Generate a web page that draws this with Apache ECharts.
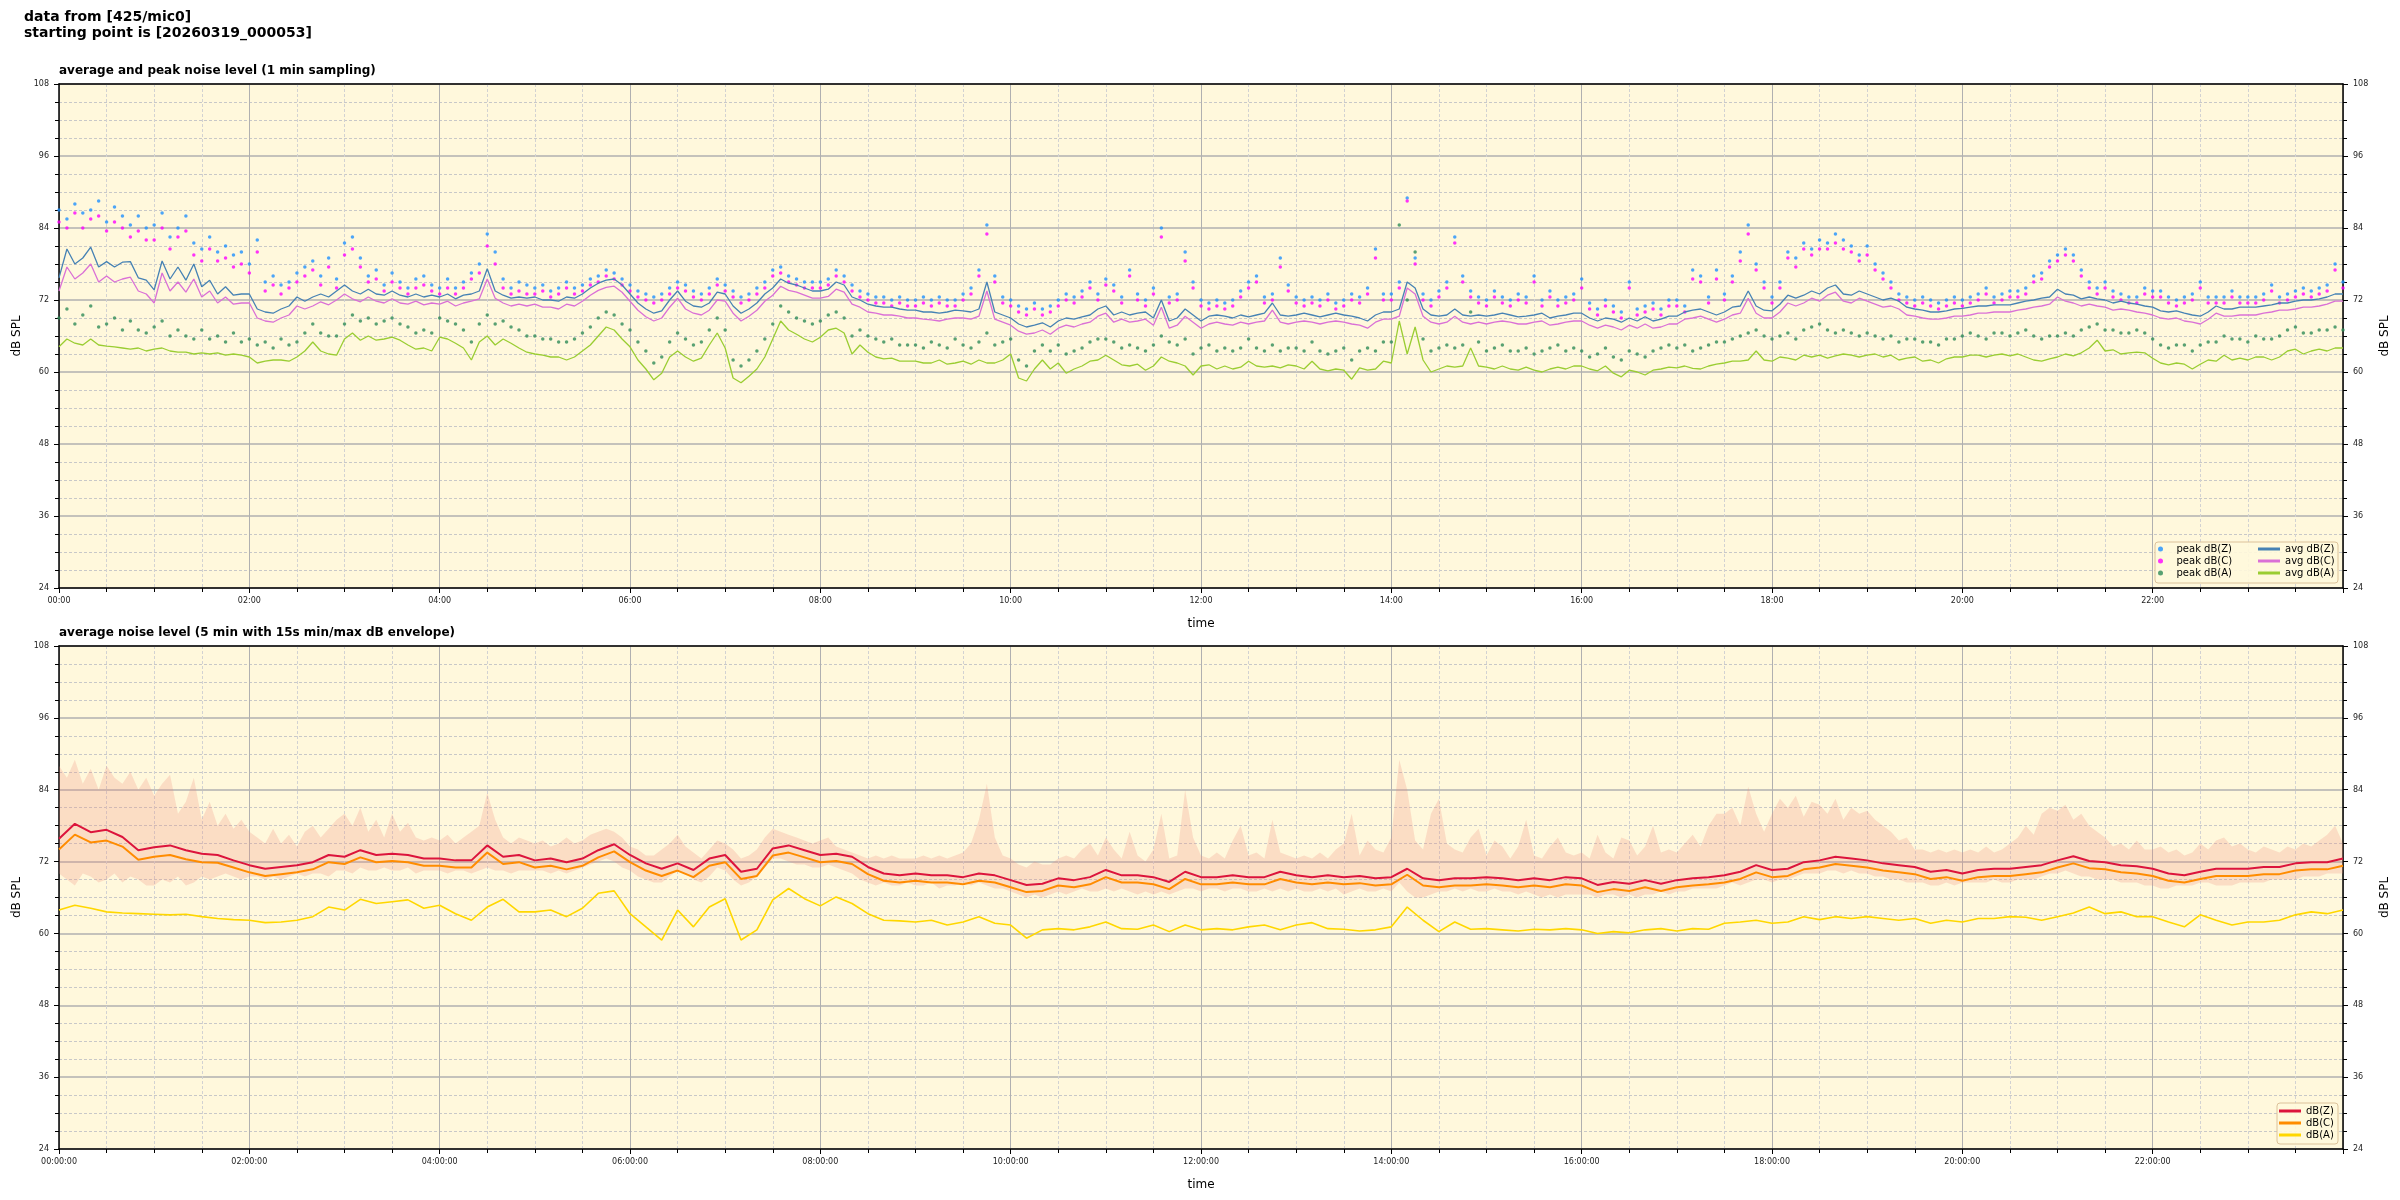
<!DOCTYPE html>
<html><head><meta charset="utf-8">
<script src="https://cdn.jsdelivr.net/npm/echarts@6/dist/echarts.min.js"></script>
<style>html,body{margin:0;padding:0;background:#fff}#c{width:2400px;height:1200px}</style>
</head><body><div id="c"></div>
<script>
// ---------- texts ----------
const supTitle = 'data from [425/mic0]\nstarting point is [20260319_000053]';
const title1 = 'average and peak noise level (1 min sampling)';
const title2 = 'average noise level (5 min with 15s min/max dB envelope)';
const legendTop1 = ['peak dB(Z)', 'peak dB(C)', 'peak dB(A)'];
const legendTop2 = ['avg dB(Z)', 'avg dB(C)', 'avg dB(A)'];
const legendBottom = ['dB(Z)', 'dB(C)', 'dB(A)'];
const yMin = 24, yMax = 108, yStep = 12;
const xMinMin = 0, xMaxMin = 1440, xStepMin = 120;

// ---------- top chart: 5-min readings (one row per hour) ----------
const avgZ = [
75.7,80.5,78,79,80.8,77.5,78.4,77.5,78.3,78.4,75.7,75.3,
73.7,78.5,75.5,77.5,75.3,78,74.2,75.3,73,74.2,72.8,73,
73,70.5,70,69.8,70.5,71,72.5,71.8,72.5,73,72.5,73.5,
74.5,73.5,73,73.8,73,72.8,73.5,72.8,72.5,73,72.5,72.8,
72.5,73,72.2,72.8,73,73.5,77.2,73.5,72.8,72.3,72.5,72.3,
72.5,72,72,71.8,72.5,72.3,73,74,74.8,75.3,75.5,74.5,
73,71.5,70.5,69.8,70.2,72,73.5,71.8,71,70.8,71.5,73.3,
73,71,69.8,70.5,71.5,73,74,75.5,74.8,74.5,74,73.5,
73.5,73.8,75,74.5,72.5,72,71.3,71,70.8,70.8,70.5,70.3,
70.3,70,70,69.8,70,70.3,70.2,70,70.5,75,70,69.5,
69,68,67.5,67.8,68.2,67.5,68.5,69,68.8,69.2,69.5,70.5,
71,69.5,70,69.5,69.8,70,69,72,68.5,69,70.5,69.5,
68.5,69.3,69.5,69.3,69,69.5,69.2,69.5,69.8,71.5,69.5,69.3,
69.5,69.8,69.5,69.2,69.5,69.8,69.5,69.3,69,68.5,69.5,70,
70,70.5,75,74,70.5,69.5,69.3,69.5,70.5,69.5,69.3,69.5,
69.3,69.5,69.8,69.5,69.2,69.3,69.5,69.8,69,69.3,69.5,69.8,
69.8,69,68.5,69,68.8,68.3,69,68.5,69.2,68.5,68.8,69.3,
69.3,70,70.3,70.5,70,69.5,70,70.8,71,73.5,71,70.3,
70.2,71.3,72.8,72.3,72.8,73.5,73,74,74.5,73,72.8,73.5,
73,72.5,72,72.3,71.8,70.8,70.5,70.3,70,70,70.2,70.5,
70.6,70.8,71,71,71.2,71.2,71.2,71.5,71.8,72,72.3,72.5,
73.8,73,72.8,72.2,72.5,72.2,72,71.5,71.8,71.5,71.3,71,
70.8,70.2,70,70.2,69.8,69.5,69.3,70,71,70.5,70.5,70.8,
70.8,70.8,71,71.2,71.5,71.5,71.8,72,72,72.2,72.5,73,
73];
const avgC = [
73.5,77.5,75.5,76.5,78,75,76,75,75.5,75.8,73.5,73,
71.5,76.5,73.5,75,73.3,75.5,72.5,73.5,71.5,72.5,71.3,71.5,
71.5,69,68.5,68.3,69,69.5,71,70.5,71,71.7,71.2,72,
73,72.2,71.7,72.5,71.8,71.5,72.2,71.5,71.3,71.8,71.2,71.5,
71.3,71.8,71,71.5,71.8,72.2,75.5,72.3,71.5,71,71.3,71,
71.3,70.8,70.8,70.5,71.3,71,71.8,72.8,73.6,74.1,74.3,73.3,
71.8,70.3,69.2,68.5,69,70.8,72.3,70.5,69.8,69.5,70.3,72,
71.8,69.8,68.5,69.3,70.3,71.8,72.8,74.3,73.6,73.3,72.8,72.3,
72.3,72.6,73.8,73.3,71.3,70.8,70,69.8,69.5,69.5,69.3,69,
69,68.8,68.7,68.5,68.8,69,69,68.8,69.3,73.5,68.8,68.3,
67.8,66.8,66.3,66.5,67,66.3,67.3,67.8,67.5,68,68.3,69.3,
69.8,68.3,68.8,68.3,68.5,68.8,67.8,70.8,67.3,67.8,69.3,68.3,
67.3,68,68.3,68,67.8,68.3,68,68.3,68.5,70.3,68.3,68,
68.3,68.5,68.3,68,68.3,68.5,68.3,68,67.8,67.3,68.3,68.8,
68.8,69.3,74,73,69.3,68.3,68,68.3,69.3,68.3,68,68.3,
68,68.3,68.5,68.3,68,68,68.3,68.5,67.8,68,68.3,68.5,
68.5,67.8,67.3,67.8,67.5,67,67.8,67.3,68,67.3,67.5,68,
68,68.8,69,69.3,68.8,68.3,68.8,69.5,69.8,72.3,69.8,69,
69,70,71.5,71,71.5,72.3,71.8,72.8,73.3,71.8,71.5,72.3,
71.8,71.3,70.8,71,70.5,69.5,69.3,69,68.8,68.8,69,69.3,
69.3,69.5,69.8,69.8,70,70,70,70.3,70.5,70.8,71,71.3,
72.5,71.8,71.5,71,71.3,71,70.8,70.3,70.5,70.3,70,69.8,
69.5,69,68.8,69,68.5,68.3,68,68.8,69.8,69.3,69.3,69.5,
69.5,69.5,69.8,70,70.3,70.3,70.5,70.8,70.8,71,71.3,71.8,
71.8];
const avgA = [
64.2,65.5,64.8,64.5,65.5,64.5,64.3,64.2,64,63.8,64,63.5,
63.8,64,63.5,63.3,63.3,63,63.2,63,63.2,62.8,63,62.8,
62.5,61.5,61.8,62,62,61.8,62.5,63.5,65,63.5,63,62.8,
65.5,66.5,65.3,66,65.3,65.5,65.8,65.3,64.5,63.8,64,63.5,
65.8,65.5,64.8,64,62,65,66,64.5,65.5,64.8,64,63.3,
63,62.8,62.5,62.5,62,62.5,63.5,64.5,66,67.5,67,65.5,
64.2,62,60.5,58.7,59.8,62.5,63.5,62.5,61.8,62.3,64.5,66.5,
64,59,58.2,59.3,60.5,62.5,65.5,68.5,67,66.3,65.5,65,
65.8,67,67.3,66.5,63,64.5,63.3,62.5,62.2,62.3,61.8,61.8,
61.8,61.5,61.5,62,61.3,61.5,61.8,61.3,62,61.5,61.5,62,
63,59,58.5,60.5,62,60.5,61.5,59.8,60.5,61,61.8,62,
62.8,62,61.2,61,61.3,60.3,61,62.5,61.8,61.5,61,59.5,
61,61.2,60.5,61,60.5,60.8,61.8,61,60.8,61,60.7,61.2,
61,60.5,61.8,60.5,60.2,60.5,60.3,58.8,60.7,60.3,60.5,61.8,
61.5,68.5,63,67.5,62,60,60.5,61,60.8,61,64,61,
60.8,60.5,61,60.5,60.3,60.8,60.3,60,60.5,60.8,60.5,61,
61,60.5,60.2,61,59.8,59.2,60.3,60,59.5,60.3,60.5,60.8,
60.7,61,60.6,60.5,61,61.3,61.5,61.8,61.8,62,63.5,62,
61.8,62.5,62.3,62,62.8,62.5,62.8,62.3,62.7,63,62.8,62.5,
62.8,63,62.5,62.8,62,62.3,62.5,61.8,62,61.5,62.2,62.5,
62.5,62.8,62.8,62.5,62.8,63,62.7,63,62.5,62,61.8,62.2,
62.5,63,62.7,63.2,64,65.3,63.5,63.7,63,63.2,63.3,63.2,
62.3,61.5,61.2,61.5,61.3,60.5,61.3,62,61.8,62.8,62,62.3,
62,62.5,62.5,62,62.5,63.5,63.8,63,63.5,63.8,63.5,64,
64];
const peakZ = [
87,85.5,88,86.5,87,88.5,85,87.5,86,84.5,86,84,
84.5,86.5,82.5,84,86,81.5,80.5,82.5,80,81,79.5,80,
78,82,75,76,74.5,75,76.5,77.5,78.5,76,79,75.5,
81.5,82.5,79,76,77,74.5,76.5,75,74,75.5,76,74.5,
74,75.5,74,75,76.5,78,83,80,75.5,74,75,74.5,
74,74.5,73.5,74,75,74,74.5,75.5,76,77,76.5,75.5,
74.5,73.5,73,72.5,73,74,75,74.5,73.5,73,74,75.5,
74.5,73.5,72.5,73,74,75,77,77.5,76,75.5,75,75,
75,75.5,77,76,74.5,73.5,73,72.5,72.5,72,72.5,72,
72,72.5,72,72.5,72,72,73,74,77,84.5,76,72.5,
72,71,70.5,71.5,70.5,71,72,73,72.5,73.5,75,73,
75.5,74.5,72.5,77,73,72,74,84,72.5,73,80,75,
72,71.5,72,71.5,72,73.5,75,76,72.5,73,79,74.5,
72.5,72,72.5,72,73,71.5,72,73,72.5,74,80.5,73,
73,75,89,79,73,72,73.5,75,82.5,76,73.5,72.5,
72,73.5,72.5,72,73,72.5,76,72,73.5,72,72.5,73,
75.5,71.5,70.5,72,71,70,75,70.5,71,71.5,70.5,72,
72,71,77,76,72.5,77,73,76,80,84.5,78,75,
72.5,75,80,79,81.5,80.5,82,81.5,83,82,81,79.5,
81,78,76.5,75,73,72.5,72,72.5,72,71.5,72,72.5,
72,72.5,73,74,72.5,73,73.5,73.5,74,76,76.5,78.5,
79.5,80.5,79.5,77,75,74,75,73.5,73,72.5,72.5,74,
73.5,73.5,72.5,72,72.5,73,75,72.5,72.5,72.5,73.5,72.5,
72.5,72.5,73,74.5,72.5,73,73.5,74,73.5,74,74.5,78,
75];
const peakC = [
85,84,86.5,84,85.5,86,83.5,85,84,82.5,83.5,82,
82,84,80.5,82.5,83.5,79.5,78.5,80.5,78.5,79,77.5,78,
76.5,80,73.5,74.5,73,74,75,76,77,74.5,77.5,74,
79.5,80.5,77.5,75,75.5,73.5,75,74,73,74,74.5,73.5,
73,74,73,74,75.5,76.5,81,78,74,73,73.5,73,
73,73.5,72.5,73,74,73,73.5,74.5,75,76,75.5,74.5,
73.5,72.5,72,71.5,72,73,74,73.5,72.5,72,73,74.5,
73.5,72.5,71.5,72,73,74,76,76.5,75,74.5,74,74,
74,74.5,76,75,73.5,72.5,72,71.5,71.5,71,71.5,71,
71,71.5,71,71.5,71,71,72,73,76,83,75,71.5,
71,70,69.5,70.5,69.5,70,71,72,71.5,72.5,74,72,
74.5,73.5,71.5,76,72,71,73,82.5,71.5,72,78.5,74,
71,70.5,71,70.5,71,72.5,74,75,71.5,72,77.5,73.5,
71.5,71,71.5,71,72,70.5,71,72,71.5,73,79,72,
72,74,88.5,78,72,71,72.5,74,81.5,75,72.5,71.5,
71,72.5,71.5,71,72,71.5,75,71,72.5,71,71.5,72,
74,70.5,69.5,71,70,69,74,69.5,70,70.5,69.5,71,
71,70,75.5,75,71.5,75.5,72,75,78.5,83,77,74,
71.5,74,79,77.5,80.5,79.5,80.5,80.5,81.5,80.5,80,78.5,
79.5,77,75.5,74,72,71.5,71,71.5,71,70.5,71,71.5,
71,71.5,72,73,71.5,72,72.5,72.5,73,75,75.5,77.5,
78.5,79.5,78.5,76,74,73,74,72.5,72,71.5,71.5,73,
72.5,72.5,71.5,71,71.5,72,74,71.5,71.5,71.5,72.5,71.5,
71.5,71.5,72,73.5,71.5,72,72.5,73,72.5,73,73.5,77,
74];
const peakA = [
69,70.5,68,69.5,71,67.5,68,69,67,68.5,67,66.5,
67.5,68.5,66,67,66,65.5,67,65.5,66,65,66.5,65,
65.5,64.5,65,64,65.5,64.5,65,66.5,68,66.5,66,66,
68,69.5,68.5,69,68,68.5,69,68,67.5,66.5,67,66.5,
69,68.5,68,67,65,68,69.5,68,68.5,67.5,67,66,
66,65.5,65.5,65,65,65.5,66.5,67.5,69,70,69.5,68,
67,65,63.5,61.5,62.5,65,66.5,65.5,64.5,65,67,69,
67,62,61,62,63.5,65.5,68,71,70,69,68.5,68,
68.5,69.5,70,69,66,67,66,65.5,65,65.5,64.5,64.5,
64.5,64,65,64.5,64,65.5,64.5,64,65,66.5,64.5,65,
65.5,62,61,63.5,64.5,63.5,64.5,63,63.5,64,65,65.5,
65.5,65,64,64.5,64,63.5,64.5,66,65,64.5,65.5,63,
64,64.5,63.5,64,63.5,64,65.5,64,63.5,64.5,63.5,64,
64,63.5,65,63.5,63,63.5,64,62,63.5,64,63.5,65,
65,84.5,72,80,65.5,63.5,64,64.5,64,64.5,70,65,
63.5,64,64.5,63.5,63.5,64,63,63.5,64,64.5,63.5,64,
63.5,62.5,63,64,62.5,62,63.5,63,62.5,63.5,64,64.5,
64,64.5,63.5,64,64.5,65,65,65.5,66,66.5,67,66,
65.5,66,66.5,65.5,67,67.5,68,67,66.5,67,66.5,66,
66.5,66,65.5,66,65,65.5,65.5,65,65,64.5,65.5,65.5,
66,66.5,66,65.5,66.5,66.5,66,66.5,67,66,65.5,66,
66,66.5,66,67,67.5,68,67,67,66.5,66.5,67,66.5,
65.5,64.5,64,64.5,64.5,63.5,64.5,65,65,66,65.5,65.5,
65,66,65.5,65.5,66,67,67.5,66.5,66.5,67,67,67.5,
67];

// ---------- bottom chart: 10-min readings (one row per 2 hours) ----------
const lineZ = [
75.8,78.3,76.9,77.3,76.1,73.9,74.4,74.7,73.9,73.3,73.1,72.2,
71.4,70.8,71.1,71.4,71.9,73.1,72.8,73.9,73.1,73.3,73.1,72.5,
72.5,72.2,72.2,74.7,72.8,73.1,72.2,72.5,71.9,72.5,73.9,74.9,
73.1,71.7,70.8,71.7,70.6,72.5,73.1,70.3,70.8,74.2,74.7,73.9,
73.1,73.3,72.8,71.1,70,69.7,70,69.7,69.7,69.4,70,69.7,
68.9,68.1,68.3,69.2,68.9,69.4,70.6,69.7,69.7,69.4,68.6,70.3,
69.4,69.4,69.7,69.4,69.4,70.3,69.7,69.4,69.7,69.4,69.6,69.2,
69.4,70.8,69.2,68.9,69.2,69.2,69.4,69.2,68.9,69.2,68.9,69.4,
69.2,68.1,68.6,68.3,68.9,68.3,68.9,69.2,69.4,69.7,70.3,71.4,
70.6,70.8,71.9,72.2,72.8,72.5,72.2,71.7,71.4,71.1,70.3,70.6,
70,70.6,70.8,70.8,71.1,71.4,72.2,72.9,72.1,71.9,71.4,71.2,
70.8,70,69.7,70.3,70.8,70.8,70.8,71.1,71.1,71.7,71.9,71.9,
72.5];
const lineC = [
74,76.5,75.2,75.5,74.5,72.3,72.8,73.1,72.4,71.9,71.8,71,
70.2,69.6,69.9,70.2,70.7,71.9,71.6,72.7,71.9,72.1,71.9,71.3,
71.3,71,71,73.5,71.6,71.9,71,71.3,70.7,71.3,72.7,73.7,
71.9,70.5,69.6,70.5,69.4,71.3,71.9,69.1,69.6,73,73.5,72.7,
71.9,72.1,71.6,69.9,68.8,68.5,68.8,68.5,68.5,68.2,68.8,68.5,
67.7,66.9,67.1,68,67.7,68.2,69.4,68.5,68.5,68.2,67.4,69.1,
68.2,68.2,68.5,68.2,68.2,69.1,68.5,68.2,68.5,68.2,68.4,68,
68.2,69.8,68,67.7,68,68,68.2,68,67.7,68,67.7,68.2,
68,66.9,67.4,67.1,67.7,67.1,67.7,68,68.2,68.5,69.1,70.2,
69.4,69.6,70.7,71,71.6,71.3,71,70.5,70.2,69.9,69.1,69.4,
68.8,69.4,69.6,69.6,69.9,70.2,71,71.7,70.9,70.7,70.2,70,
69.6,68.8,68.5,69.1,69.6,69.6,69.6,69.9,69.9,70.5,70.7,70.7,
71.3];
const lineA = [
63.9,64.7,64.2,63.6,63.4,63.3,63.2,63.1,63.2,62.8,62.5,62.3,
62.2,61.8,61.9,62.2,62.8,64.4,63.9,65.7,65,65.3,65.6,64.2,
64.7,63.3,62.2,64.4,65.7,63.6,63.6,63.9,62.8,64.2,66.7,67.1,
63.3,61.1,58.9,63.9,61.1,64.4,65.8,58.9,60.6,65.6,67.5,65.8,
64.6,66.1,65,63.3,62.2,62.1,61.9,62.2,61.4,61.9,62.8,61.7,
61.4,59.2,60.6,60.8,60.6,61.1,61.9,60.8,60.7,61.4,60.3,61.4,
60.6,60.8,60.6,61.1,61.4,60.6,61.4,61.8,60.8,60.7,60.4,60.6,
61.1,64.4,62.2,60.3,61.9,60.7,60.8,60.6,60.4,60.7,60.6,60.8,
60.6,60,60.3,60.1,60.6,60.8,60.4,60.8,60.7,61.7,61.9,62.2,
61.7,61.9,62.8,62.3,62.8,62.5,62.8,62.5,62.2,62.5,61.7,62.2,
61.9,62.5,62.5,62.8,62.7,62.2,62.8,63.4,64.4,63.3,63.6,62.8,
62.8,61.9,61.1,63.1,62.2,61.4,61.9,61.9,62.2,63.1,63.6,63.3,
63.9];
// 15 s min/max envelope, read every 5 min (one row per hour)
const envMax = [
88,86,89,85,87.5,84,88,86,85,87,84,86,
83,85,86.5,80,82,86,79,82,78,80,77.5,79,
77,76,75,77.5,75,76.5,74.5,77,78,76,77.5,79,
80,78,81,77,79,76,80,77,78.5,76,75.5,76,
75.5,76.5,75,76,77,78,83.5,79,76,75,76,75.5,
75,75.5,74.5,75,76,75,75.5,76.5,77,77.5,77,76,
74.5,74,73,73,74,75,76.5,74.5,73.5,72.5,74,75.5,
75,74,72.5,73,74,76,77.5,77,76.5,76,75.5,75,
75.5,76,74.5,74,73.5,73,72.5,73,72.5,73,72.5,72.5,
72.5,73,72.5,73,72.5,73,73.5,75,79,85,76,73,
72.5,71.5,71,72,71.5,71.5,72.5,73,72.5,74,75,73,
76,74,72.5,77,73,72,74,80,72.5,73,84,76,
73,72.5,73.5,72.5,75.5,78,73,73.5,72.5,79,73.5,73,
72.5,73,72.5,73.5,72.5,74,75,80,73,75.5,74,73.5,
76,89,84,75.5,74,80,82.5,75,74,73.5,76,77.5,
73,75.5,74.5,72.5,74.5,79,73,72.5,74.5,76,73.5,73,
73.5,72.5,76.5,73.5,72.5,76,75.5,73,74.5,78,73.5,74,
73.5,75,76.5,74.5,78,80,80,81,78,84.5,80,77,
80,82.5,81,83,79.5,82,81.5,80,82.5,79,81,80,
80.5,79,78,77,75.5,76,74,74,73.5,74,73.5,74,
73.5,74,73.5,74.5,73.5,74,75,76,78,76.5,80,81,
80.5,81.5,79,80,78,77,76,74.5,75,74,75.5,74,
74,74.5,73.5,74,73,73.5,75,74,75.5,76,74.5,75,
74,73.5,74.5,74,73.5,74.5,74,75,74.5,75.5,76.5,78,
75];
const envMin = [
70,69,68,70,69.5,68.5,69,70,68.5,69.5,69,68,
68,69,68.5,69.5,68,68.5,69.5,69,69.5,70,69.5,69,
69.5,69.5,69,69.5,69,69.5,70,69.5,70,70,69.5,70.5,
70.5,70,71,70.5,70.5,71,70.5,70.5,71,70,70.5,70.5,
70.5,70,70.5,70.5,70,70.5,71,70.5,70.5,70,70.5,70.5,
70.5,70.5,70,70.5,70,70.5,71,71.5,72,72.5,72,71,
70.5,69.5,69,68.5,68.5,69.5,70.5,70,69,68.5,69.5,71,
70.5,69,68,68.5,69.5,71,72.5,72.5,72,71.5,71.5,71,
71,71.5,71,70.5,70,69,68.5,68,68.5,68,68,68.5,
68,68,68.5,67.5,68,68,68.5,68,68.5,68,67.5,67.5,
67,66.5,66,66.5,66,66.5,67,66.5,67,67.5,67,67,
67.5,67,67.5,67,66.5,67,66.5,67,66.5,67,67.5,67.5,
67,67.5,67.5,67,67.5,67.5,67,67,67.5,67,67.5,67,
67.5,67,67,67.5,67,67.5,66.5,67,67.5,67,67,67.5,
67,68.5,67,66,66,66.5,67,67,67.5,67,67.5,67,
67,67.5,67,67,66.5,67,66.5,66,66.5,66,66.5,66.5,
66.5,66.5,66,66.5,66.5,66,66.5,66,66.5,66.5,67,66.5,
67,67,67.5,67.5,67.5,67.5,68,68.5,68,68.5,69,69,
68.5,69,69,69.5,70,70,70,70.5,70.5,70,70.5,70,
70,69.5,69.5,69,69,68.5,68.5,68.5,68,68,68.5,68,
68.5,68.5,68.5,68.5,69,68.5,68.5,69,69,69,69.5,70,
70,70.5,70,69.5,69.5,69,69,69,68.5,68.5,68.5,68,
68,67.5,67.5,68,68,68,68.5,68.5,68,68,68,68.5,
68.5,68.5,68.5,69,69,69,69,69.5,69.5,69.5,70,70,
70];

// ---------- build ----------
const FONT = 'DejaVu Sans';
const pts = (arr, step) => arr.map((v, i) => [i * step, v]);
const pad2 = n => (n < 10 ? '0' : '') + n;
const fmtTop = v => v >= xMaxMin ? '' : pad2(Math.round(v / 60)) + ':00';
const fmtBot = v => v >= xMaxMin ? '' : pad2(Math.round(v / 60)) + ':00:00';

function xBottom(gi, fmt) {
  return {
    type: 'value', gridIndex: gi, position: 'bottom', min: xMinMin, max: xMaxMin, interval: xStepMin,
    axisLine: { show: true, onZero: false, lineStyle: { color: '#000', width: 1.5 } },
    axisTick: { show: true, length: 5, lineStyle: { color: '#000', width: 1 } },
    minorTick: { show: true, splitNumber: 4, length: 4, lineStyle: { color: '#000', width: 1 } },
    axisLabel: { fontFamily: FONT, fontSize: 8, color: '#222', margin: 9, formatter: fmt, showMaxLabel: false },
    splitLine: { show: true, lineStyle: { color: '#b0b0b0', width: 1 } },
    minorSplitLine: { show: true, lineStyle: { color: '#d2d2d2', width: 1, type: [3, 2] } },
    name: 'time', nameLocation: 'middle', nameGap: 30,
    nameTextStyle: { fontFamily: FONT, fontSize: 12, color: '#000' }
  };
}
function xTop(gi) {
  return {
    type: 'value', gridIndex: gi, position: 'top', min: xMinMin, max: xMaxMin,
    axisLine: { show: true, onZero: false, lineStyle: { color: '#000', width: 1.5 } },
    axisTick: { show: false }, axisLabel: { show: false }, splitLine: { show: false }
  };
}
function yAx(gi, side) {
  const left = side === 'left';
  return {
    type: 'value', gridIndex: gi, position: side, min: yMin, max: yMax, interval: yStep,
    axisLine: { show: true, onZero: false, lineStyle: { color: '#000', width: 1.5 } },
    axisTick: { show: true, length: 5, lineStyle: { color: '#000', width: 1 } },
    minorTick: { show: true, splitNumber: 4, length: 4, lineStyle: { color: '#000', width: 1 } },
    axisLabel: { fontFamily: FONT, fontSize: 8, color: '#222', margin: 10 },
    splitLine: { show: left, lineStyle: { color: '#b0b0b0', width: 1.5 } },
    minorSplitLine: { show: left, lineStyle: { color: '#c8c8c8', width: 1, type: [3, 2] } },
    name: 'dB SPL', nameLocation: 'middle', nameGap: left ? 33 : 32, nameRotate: 90,
    nameTextStyle: { fontFamily: FONT, fontSize: 12, color: '#000' }
  };
}

const col = {
  pZ: '#1E90FF', pC: '#FF00FF', pA: '#2E8B57',
  aZ: '#4682B4', aC: '#DA70D6', aA: '#9ACD32',
  lZ: '#DC143C', lC: '#FF8C00', lA: '#FFD700',
  env: 'rgba(240,140,120,0.24)'
};
const scatter = (name, data, color) => ({
  name, type: 'scatter', xAxisIndex: 0, yAxisIndex: 0, data: pts(data, 5),
  symbol: 'circle', symbolSize: 3.5, itemStyle: { color }, z: 3
});
const line = (name, data, step, color, w, xi, yi, z) => ({
  name, type: 'line', xAxisIndex: xi, yAxisIndex: yi, data: pts(data, step),
  showSymbol: false, symbol: 'none', lineStyle: { color, width: w }, itemStyle: { color }, z: z
});

// envelope band: polygon through the max readings and back along the min readings
const envelope = {
  name: 'envelope', type: 'custom', xAxisIndex: 2, yAxisIndex: 2, silent: true, z: 2,
  data: pts(envMax, 5), encode: { x: 0, y: 1 },
  renderItem: function (params, api) {
    if (params.dataIndex !== 0) return null;
    const up = envMax.map((v, i) => api.coord([i * 5, v]));
    const lo = envMin.map((v, i) => api.coord([i * 5, v])).reverse();
    return { type: 'polygon', shape: { points: up.concat(lo) }, style: { fill: col.env, stroke: null } };
  }
};

const legendText = { fontFamily: FONT, fontSize: 10, color: '#000', lineHeight: 12 };

const option = {
  animation: false,
  backgroundColor: '#ffffff',
  title: [
    { text: supTitle, left: 24, top: 10, padding: 0,
      textStyle: { fontFamily: FONT, fontSize: 14, fontWeight: 'bold', color: '#000', lineHeight: 15.5 } },
    { text: title1, left: 59, top: 64, padding: 0,
      textStyle: { fontFamily: FONT, fontSize: 12, fontWeight: 'bold', color: '#000', lineHeight: 14 } },
    { text: title2, left: 59, top: 626, padding: 0,
      textStyle: { fontFamily: FONT, fontSize: 12, fontWeight: 'bold', color: '#000', lineHeight: 14 } }
  ],
  grid: [
    { left: 59, top: 84, width: 2284, height: 504, show: true, backgroundColor: '#FFF8DC', borderWidth: 0 },
    { left: 59, top: 646, width: 2284, height: 503, show: true, backgroundColor: '#FFF8DC', borderWidth: 0 }
  ],
  xAxis: [xBottom(0, fmtTop), xTop(0), xBottom(1, fmtBot), xTop(1)],
  yAxis: [yAx(0, 'left'), yAx(0, 'right'), yAx(1, 'left'), yAx(1, 'right')],
  legend: [
    { data: legendTop1, orient: 'vertical', left: 2158, top: 543, padding: 0, itemGap: 0,
      itemWidth: 22, itemHeight: 5, icon: 'circle', textStyle: legendText, z: 20, selectedMode: false },
    { data: legendTop2, orient: 'vertical', left: 2258, top: 543, padding: 0, itemGap: 0,
      itemWidth: 22, itemHeight: 3, icon: 'rect', textStyle: legendText, z: 20, selectedMode: false },
    { data: legendBottom, orient: 'vertical', left: 2279, top: 1105, padding: 0, itemGap: 0,
      itemWidth: 22, itemHeight: 3, icon: 'rect', textStyle: legendText, z: 20, selectedMode: false }
  ],
  graphic: [
    { type: 'rect', shape: { x: 2155, y: 542, width: 183, height: 41, r: 3 },
      style: { fill: 'rgba(255,248,220,0.9)', stroke: '#DCC29A', lineWidth: 1 }, z: 15 },
    { type: 'rect', shape: { x: 2277, y: 1103, width: 61, height: 41, r: 3 },
      style: { fill: 'rgba(255,248,220,0.9)', stroke: '#DCC29A', lineWidth: 1 }, z: 15 }
  ],
  series: [
    scatter('peak dB(Z)', peakZ, col.pZ),
    scatter('peak dB(C)', peakC, col.pC),
    scatter('peak dB(A)', peakA, col.pA),
    line('avg dB(Z)', avgZ, 5, col.aZ, 1.3, 0, 0, 4),
    line('avg dB(C)', avgC, 5, col.aC, 1.3, 0, 0, 4),
    line('avg dB(A)', avgA, 5, col.aA, 1.3, 0, 0, 4),
    envelope,
    line('dB(Z)', lineZ, 10, col.lZ, 2, 2, 2, 5),
    line('dB(C)', lineC, 10, col.lC, 2, 2, 2, 5),
    line('dB(A)', lineA, 10, col.lA, 1.6, 2, 2, 5)
  ]
};
const chart = echarts.init(document.getElementById('c'), null, { renderer: 'canvas' });
chart.setOption(option);
</script>
</body></html>
